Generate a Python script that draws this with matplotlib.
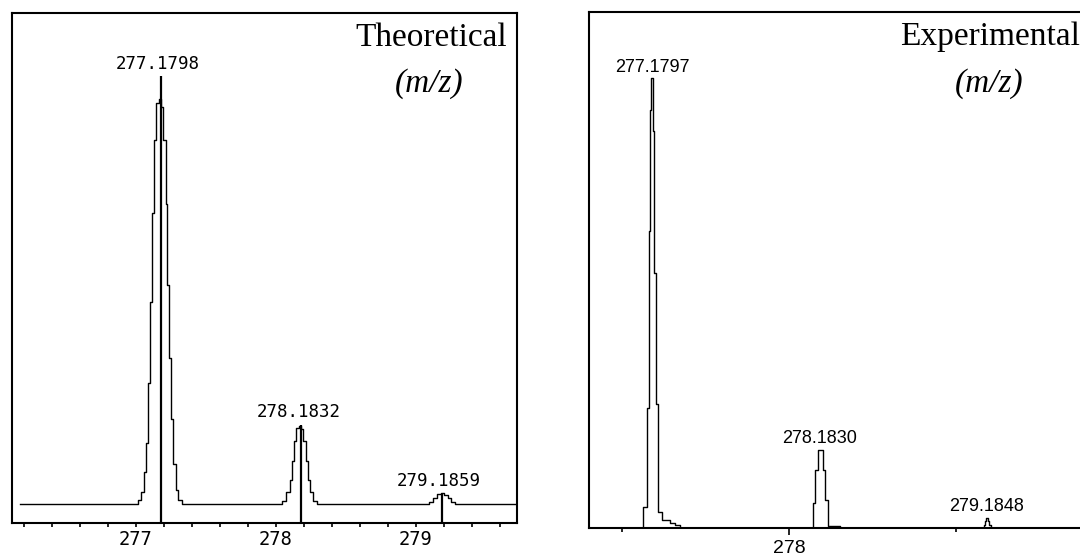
import matplotlib
matplotlib.use("Agg")
import matplotlib.pyplot as plt
import matplotlib.ticker as ticker

# Theoretical profile (m/z, % of base peak)
theo_mz = [276.173, 277.000, 277.030, 277.050, 277.065, 277.080, 277.095, 277.110,
           277.125, 277.140, 277.155, 277.172, 277.190, 277.205, 277.220, 277.232,
           277.245, 277.258, 277.275, 277.295, 277.315, 277.340,
           278.030, 278.060, 278.090, 278.110, 278.125, 278.140, 278.155, 278.172,
           278.190, 278.205, 278.220, 278.235, 278.255, 278.280, 278.310,
           279.080, 279.110, 279.140, 279.165, 279.190, 279.215, 279.240, 279.265,
           279.290, 279.716]
theo_int = [0, 0, 1.0, 3.0, 8.0, 15, 30, 50,
            72, 90, 99, 100, 98, 90, 74, 54,
            36, 21, 10, 3.5, 1.0, 0,
            0, 0.8, 3.0, 6.0, 10.6, 15.5, 18.8, 19.4,
            18.5, 15.5, 10.6, 6.0, 3.0, 0.8, 0,
            0, 0.6, 1.6, 2.5, 2.7, 2.3, 1.4, 0.5,
            0, 0]

# Theoretical centroid sticks
theo_peaks = [277.1798, 278.1832, 279.1859]
theo_heights = [105.7, 19.6, 2.5]
theo_labels = ["277.1798", "278.1832", "279.1859"]

# Experimental profile (step edges and level after each edge)
exp_mz = [277.100, 277.126, 277.150, 277.158, 277.164, 277.171, 277.181, 277.190, 277.200,
          277.212, 277.236, 277.286, 277.316, 277.346,
          278.146, 278.156, 278.172, 278.202, 278.216, 278.232, 278.306,
          279.170, 279.176, 279.182, 279.192, 279.200, 279.210, 279.700]
exp_int = [0, 4.7, 26.7, 66.1, 93.0, 100, 88.2, 56.7, 27.5,
           3.6, 1.7, 1.0, 0.5, 0,
           5.5, 12.8, 17.3, 12.8, 6.2, 0.4, 0,
           0.7, 1.4, 2.2, 1.4, 0.7, 0, 0]

exp_peaks = [277.1797, 278.1830, 279.1848]
exp_heights = [100, 17.3, 2.2]
exp_labels = ["277.1797", "278.1830", "279.1848"]

mono = ["DejaVu Sans Mono", "DejaVu Sans"]
sans = ["Liberation Sans", "DejaVu Sans"]
serif = ["Liberation Serif", "DejaVu Serif"]

fig = plt.figure(figsize=(10.8, 5.56), dpi=100)

# ---- left panel: theoretical ----
ax1 = fig.add_axes([0.01111, 0.0599, 0.4673, 0.9162])
ax1.plot(theo_mz, theo_int, drawstyle="steps-mid", color="black", lw=1.0)
ax1.vlines(theo_peaks, -4.6, theo_heights, color="black", lw=1.6)
for mz, h, lab in zip(theo_peaks, theo_heights, theo_labels):
    ax1.annotate(lab, xy=(mz, h), xytext=(-2, 9), textcoords="offset points",
                 ha="center", va="center", fontsize=12.5, family=mono)
ax1.set_xlim(276.116, 279.72)
ax1.set_ylim(-4.6, 121.2)
ax1.set_yticks([])
ax1.xaxis.set_major_locator(ticker.FixedLocator([277, 278, 279]))
ax1.xaxis.set_minor_locator(ticker.MultipleLocator(0.2))
ax1.tick_params(axis="x", which="both", direction="out", length=3, width=1.2, pad=2)
for t in ax1.get_xticklabels():
    t.set_family(mono)
    t.set_fontsize(13.5)
for s in ax1.spines.values():
    s.set_linewidth(1.5)
ax1.text(0.981, 0.951, "Theoretical", transform=ax1.transAxes, ha="right", va="center",
         fontsize=24, family=serif)
ax1.text(0.826, 0.862, "(m/z)", transform=ax1.transAxes, ha="center", va="center",
         fontsize=24, family=serif, style="italic")

# ---- right panel: experimental ----
ax2 = fig.add_axes([0.5457, 0.0509, 0.4589, 0.927])
ax2.plot(exp_mz, exp_int, drawstyle="steps-post", color="black", lw=1.0)
for mz, h, lab in zip(exp_peaks, exp_heights, exp_labels):
    ax2.annotate(lab, xy=(mz, h), xytext=(0, 8), textcoords="offset points",
                 ha="center", va="center", fontsize=13, family=sans)
ax2.set_xlim(276.802, 279.776)
ax2.set_ylim(0, 114.7)
ax2.set_yticks([])
ax2.xaxis.set_major_locator(ticker.FixedLocator([278]))
ax2.xaxis.set_minor_locator(ticker.FixedLocator([277, 279]))
ax2.tick_params(axis="x", which="major", direction="out", length=5, width=1.2, pad=3.5)
ax2.tick_params(axis="x", which="minor", direction="out", length=3, width=1.2)
for t in ax2.get_xticklabels():
    t.set_family(sans)
    t.set_fontsize(14)
for s in ax2.spines.values():
    s.set_linewidth(1.5)
ax2.spines["right"].set_visible(False)
fig.text(900 / 1080, 1 - 37 / 556, "Experimental", ha="left", va="center",
         fontsize=24, family=serif)
ax2.text(0.806, 0.862, "(m/z)", transform=ax2.transAxes, ha="center", va="center",
         fontsize=24, family=serif, style="italic")

fig.savefig("out.png", dpi=100)
